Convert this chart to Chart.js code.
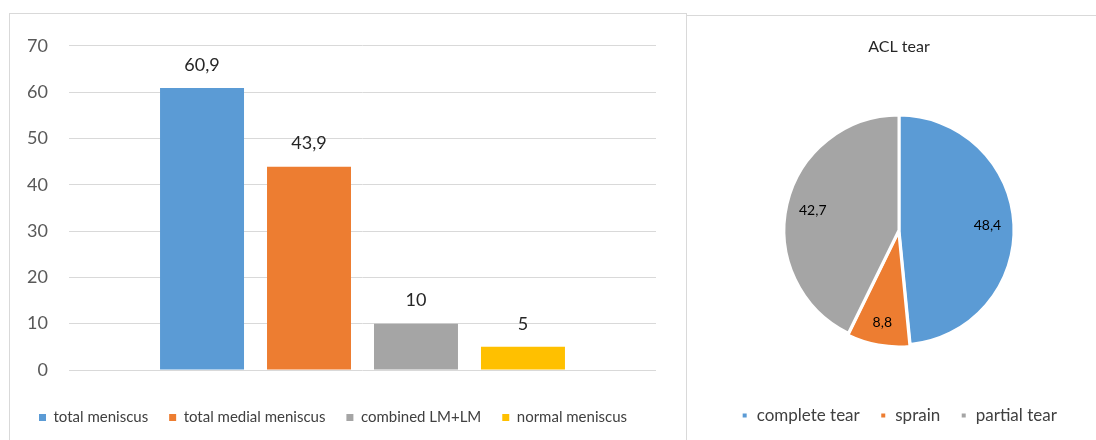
<!DOCTYPE html>
<html>
<head>
<meta charset="utf-8">
<script src="https://cdn.jsdelivr.net/npm/chart.js@4.4.0/dist/chart.umd.min.js"></script>
<style>
  body { margin: 0; width: 1096px; height: 440px; overflow: hidden; background: #fff; }
  .panel { position: absolute; border: 1px solid #d9d9d9; background: #fff; }
  #leftPanel { left: 9px; top: 13px; width: 676px; height: 440px; }
  #rightPanel { left: 686px; top: 15px; width: 420px; height: 440px; }
  canvas { position: absolute; }
</style>
</head>
<body>
<div class="panel" id="leftPanel"></div>
<div class="panel" id="rightPanel"></div>
<canvas id="barChart" style="left:10px; top:14px;" width="675" height="426"></canvas>
<canvas id="pieChart" style="left:687px; top:16px;" width="409" height="424"></canvas>
<script>
// ---- data ----
const barSeries = ["total meniscus", "total medial meniscus", "combined LM+LM", "normal meniscus"];
const barValues = [60.9, 43.9, 10, 5];
const barColors = ["#5B9BD5", "#ED7D31", "#A5A5A5", "#FFC000"];

const pieLabels = ["complete tear", "sprain", "partial tear"];
const pieValues = [48.4, 8.8, 42.7];
const pieColors = ["#5B9BD5", "#ED7D31", "#A5A5A5"];

const FONT = "Lato, 'Open Sans', sans-serif";
const fmt = v => String(v).replace(".", ",");

// value labels drawn on top of the bars
const barLabelPlugin = {
    id: "barLabels",
    afterDatasetsDraw(chart){
        const ctx = chart.ctx;
        ctx.save();
        ctx.font = "18px " + FONT;
        ctx.fillStyle = "#262626";
        ctx.textAlign = "center";
        ctx.textBaseline = "middle";
        chart.data.datasets.forEach((ds, i) => {
            const bar = chart.getDatasetMeta(i).data[0];
            ctx.fillText(fmt(ds.data[0]), bar.x, bar.y - 23);
        });
        ctx.restore();
    }
};

// value labels inside the slices
const pieLabelPlugin = {
    id: "pieLabels",
    afterDatasetsDraw(chart){
        const ctx = chart.ctx;
        const meta = chart.getDatasetMeta(0);
        ctx.save();
        ctx.font = "14px " + FONT;
        ctx.fillStyle = "#000";
        ctx.textAlign = "center";
        ctx.textBaseline = "middle";
        meta.data.forEach((arc, i) => {
            const mid = (arc.startAngle + arc.endAngle) / 2;
            const off = chart.data.datasets[0].offset[i] || 0;
            const r = arc.outerRadius * 0.77 + off;
            ctx.fillText(fmt(pieValues[i]), arc.x + Math.cos(mid) * r, arc.y + Math.sin(mid) * r);
        });
        ctx.restore();
    }
};

new Chart(document.getElementById("barChart"), {
    type: "bar",
    data: {
        labels: [""],
        datasets: barSeries.map((name, i) => ({
            label: name,
            data: [barValues[i]],
            backgroundColor: barColors[i],
            categoryPercentage: 0.729,
            barPercentage: 0.785
        }))
    },
    options: {
        responsive: false,
        animation: false,
        layout: { padding: { top: 25, right: 29, left: 0, bottom: 5 } },
        plugins: {
            legend: {
                position: "bottom",
                labels: {
                    boxWidth: 7, boxHeight: 7, padding: 21,
                    color: "#404040",
                    font: { family: FONT, size: 15 }
                }
            },
            tooltip: { enabled: false }
        },
        scales: {
            x: {
                grid: { display: false },
                border: { display: false },
                ticks: { display: false },
                afterFit(scale){ scale.height += 11; }
            },
            y: {
                min: 0, max: 70,
                ticks: { stepSize: 10, padding: 21, color: "#595959", font: { family: FONT, size: 18 } },
                grid: { color: "#d9d9d9", drawTicks: false },
                border: { display: false },
                afterFit(scale){ scale.width = 59; }
            }
        }
    },
    plugins: [barLabelPlugin]
});

new Chart(document.getElementById("pieChart"), {
    type: "pie",
    data: {
        labels: pieLabels,
        datasets: [{
            data: pieValues,
            backgroundColor: pieColors,
            borderColor: "#fff",
            borderWidth: 3,
            offset: [0, 5, 0],
            radius: 115
        }]
    },
    options: {
        responsive: false,
        animation: false,
        layout: { padding: { top: 0, left: 15, right: 0, bottom: 6 } },
        plugins: {
            title: {
                display: true,
                text: "ACL tear",
                color: "#262626",
                font: { family: FONT, size: 16, weight: "normal" },
                padding: { top: 21, bottom: 17 }
            },
            legend: {
                position: "bottom",
                labels: {
                    boxWidth: 7, boxHeight: 7, padding: 20,
                    color: "#404040",
                    font: { family: FONT, size: 17 }
                }
            },
            tooltip: { enabled: false }
        }
    },
    plugins: [pieLabelPlugin]
});
</script>
</body>
</html>
